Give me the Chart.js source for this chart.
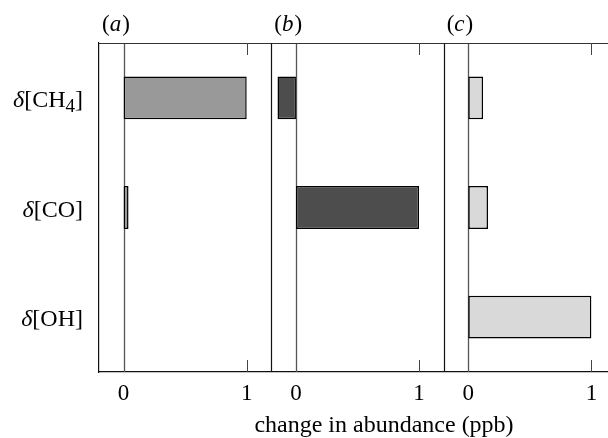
<!DOCTYPE html>
<html>
<head>
<meta charset="utf-8">
<script src="https://cdn.jsdelivr.net/npm/chart.js@4"></script>
<style>
  body { margin: 0; background: #fff; overflow: hidden; }
  #wrap { width: 616px; height: 438px; }
</style>
</head>
<body>
<div id="wrap"><canvas id="chart" width="616" height="438"></canvas></div>
<script>
// species on the y axis (digits are drawn as subscripts)
var categories = ['CH4', 'CO', 'OH'];
// change in abundance (ppb) per panel
var panelA = [1.0, 0.04, 0];
var panelB = [-0.15, 1.0, 0];
var panelC = [0.12, 0.16, 1.0];
var panelNames = ['a', 'b', 'c'];
var panelColors = ['#999999', '#4d4d4d', '#d9d9d9'];
var tickValues = [0, 1];
var panelMin = -0.2
var panelMax = 1.2
var xTitle = 'change in abundance (ppb)';

var FONT = "'Liberation Serif', 'Times New Roman', serif";
var span = panelMax - panelMin;
var panels = [panelA, panelB, panelC];

// panel i, value v -> position on the shared x axis
function pos(i, v) { return i * span + (v - panelMin); }

var datasets = panels.map(function(vals, i) {
    return {
        label: '(' + panelNames[i] + ')',
        data: vals.map(function(v) { return v === 0 ? null : [pos(i, 0), pos(i, v)]; }),
        backgroundColor: panelColors[i],
        borderColor: '#000',
        borderWidth: 1.5,
        borderSkipped: false,
        grouped: false,
        barPercentage: 0.39,
        categoryPercentage: 1
    };
});

var tickList = [];
panels.forEach(function(p, i) {
    tickValues.forEach(function(t) { tickList.push({ value: pos(i, t) }); });
});

function drawLabel(ctx, text, xRight, y, size) {
    // δ[ ... ] with digits lowered and smaller
    var parts = [{ t: 'δ', f: 'italic ' + size + 'px ' + FONT, dy: 0 }, { t: '[', f: size + 'px ' + FONT, dy: 0 }];
    text.split('').forEach(function(ch) {
        if (/[0-9]/.test(ch)) parts.push({ t: ch, f: Math.round(size * 0.8) + 'px ' + FONT, dy: size * 0.2 });
        else parts.push({ t: ch, f: size + 'px ' + FONT, dy: 0 });
    });
    parts.push({ t: ']', f: size + 'px ' + FONT, dy: 0 });
    var w = 0;
    parts.forEach(function(p) { ctx.font = p.f; p.w = ctx.measureText(p.t).width; w += p.w; });
    var x = xRight - w;
    ctx.textAlign = 'left';
    ctx.textBaseline = 'alphabetic';
    parts.forEach(function(p) { ctx.font = p.f; ctx.fillText(p.t, x, y + p.dy); x += p.w; });
}

var decor = {
    id: 'decor',
    beforeDatasetsDraw: function(chart) {
        var ctx = chart.ctx, xs = chart.scales.x, a = chart.chartArea;
        ctx.save();
        // zero lines
        ctx.strokeStyle = '#555';
        ctx.lineWidth = 1.3;
        panels.forEach(function(p, i) {
            var x = Math.round(xs.getPixelForValue(pos(i, 0))) + 0.5;
            ctx.beginPath(); ctx.moveTo(x, a.top); ctx.lineTo(x, a.bottom); ctx.stroke();
        });
        ctx.restore();
    },
    afterDraw: function(chart) {
        var ctx = chart.ctx, xs = chart.scales.x, ys = chart.scales.y, a = chart.chartArea;
        ctx.save();
        ctx.fillStyle = '#000';
        // top frame line
        ctx.strokeStyle = '#333';
        ctx.lineWidth = 1.2;
        ctx.beginPath(); ctx.moveTo(a.left, a.top + 0.5); ctx.lineTo(a.right, a.top + 0.5); ctx.stroke();
        // panel separators
        ctx.strokeStyle = '#111';
        ctx.lineWidth = 1.2;
        for (var i = 1; i < panels.length; i++) {
            var x = Math.round(xs.getPixelForValue(i * span)) + 0.5;
            ctx.beginPath(); ctx.moveTo(x, a.top); ctx.lineTo(x, a.bottom); ctx.stroke();
        }
        // short ticks at non zero values
        ctx.strokeStyle = '#444';
        ctx.lineWidth = 1;
        panels.forEach(function(p, i) {
            tickValues.forEach(function(t) {
                if (t === 0) return;
                var x = Math.round(xs.getPixelForValue(pos(i, t))) + 0.5;
                ctx.beginPath(); ctx.moveTo(x, a.top); ctx.lineTo(x, a.top + 12); ctx.stroke();
                ctx.beginPath(); ctx.moveTo(x, a.bottom); ctx.lineTo(x, a.bottom - 12); ctx.stroke();
            });
        });
        // panel letters
        ctx.textBaseline = 'middle';
        ctx.textAlign = 'left';
        panelNames.forEach(function(n, i) {
            var x = xs.getPixelForValue(i * span) + 3;
            ctx.font = '23px ' + FONT;
            ctx.fillText('(', x, 25);
            x += ctx.measureText('(').width;
            ctx.font = 'italic 23px ' + FONT;
            ctx.fillText(n, x, 25);
            x += ctx.measureText(n).width + 1;
            ctx.font = '23px ' + FONT;
            ctx.fillText(')', x, 25);
        });
        // species labels
        categories.forEach(function(c, i) {
            drawLabel(ctx, c, 83, ys.getPixelForValue(i) + 9, 24);
        });
        // axis title
        ctx.font = '24px ' + FONT;
        ctx.textAlign = 'center';
        ctx.textBaseline = 'middle';
        ctx.fillText(xTitle, 384, 426);
        ctx.restore();
    }
};

new Chart(document.getElementById('chart'), {
    type: 'bar',
    data: { labels: categories, datasets: datasets },
    options: {
        indexAxis: 'y',
        responsive: false,
        animation: false,
        layout: { padding: { top: 43, left: 0, right: 0, bottom: 0 } },
        plugins: { legend: { display: false }, tooltip: { enabled: false } },
        scales: {
            x: {
                type: 'linear',
                min: 0,
                max: span * panels.length,
                afterBuildTicks: function(scale) { scale.ticks = tickList.slice(); },
                afterFit: function(scale) { scale.height = 66; },
                grid: { display: false, drawTicks: false },
                border: { display: true, color: '#111', width: 1.2 },
                ticks: {
                    autoSkip: false,
                    maxRotation: 0,
                    padding: 8,
                    color: '#000',
                    font: { family: FONT, size: 23 },
                    callback: function(v, idx) { return String(tickValues[idx % tickValues.length]); }
                }
            },
            y: {
                type: 'category',
                afterFit: function(scale) { scale.width = 99; },
                grid: { display: false, drawTicks: false },
                border: { display: true, color: '#111', width: 1.2 },
                ticks: { display: false }
            }
        }
    },
    plugins: [decor]
});
</script>
</body>
</html>
